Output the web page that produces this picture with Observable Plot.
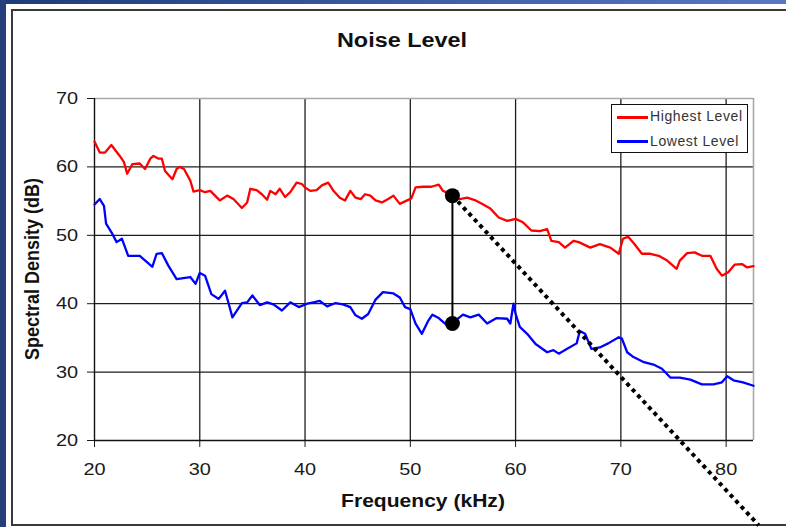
<!DOCTYPE html>
<html>
<head>
<meta charset="utf-8">
<script src="https://cdn.jsdelivr.net/npm/d3@7"></script>
<script src="https://cdn.jsdelivr.net/npm/@observablehq/plot@0.6"></script>
<style>
  html, body { margin: 0; padding: 0; background: #ffffff; }
  body { width: 786px; height: 527px; overflow: hidden; position: relative; font-family: "Liberation Sans", Arial, sans-serif; }
  .abs { position: absolute; white-space: nowrap; }
  #topband { left: 0; top: 0; width: 786px; height: 4px; background: linear-gradient(to right, #1f3b78, #3d5aa3 50%, #5a78c2); }
  #leftband { left: 0; top: 0; width: 6px; height: 527px; background: #243f7a; }
  #panel { left: 11px; top: 9px; width: 800px; height: 517px; border: 2px solid #3a3a3a; box-sizing: border-box; background: #fff; }
  #chart { left: 0; top: 0; }
  #title { left: 402px; top: 29px; font-size: 20px; font-weight: bold; color: #111; transform: translateX(-50%) scaleX(1.17); line-height: normal; }
  #xlabel { left: 423px; top: 491px; font-size: 18px; font-weight: bold; color: #111; transform: translateX(-50%) scaleX(1.17); line-height: normal; }
  #ylabel { left: 33px; top: 269px; font-size: 18px; font-weight: bold; color: #111; transform: translate(-50%, -50%) rotate(-90deg) scaleY(1.17); line-height: normal; }
  #legend { left: 611px; top: 104px; width: 137px; height: 49px; border: 1.5px solid #111; box-sizing: border-box; background: #fff; }
  .lgline { position: absolute; left: 5px; width: 31px; height: 2.5px; }
  .lgtext { position: absolute; left: 38px; font-size: 14px; letter-spacing: 0.6px; color: #333; line-height: normal; }
</style>
</head>
<body>
<div id="topband" class="abs"></div>
<div id="leftband" class="abs"></div>
<div id="panel" class="abs"></div>
<div id="chart" class="abs"></div>
<div id="title" class="abs">Noise Level</div>
<div id="xlabel" class="abs">Frequency (kHz)</div>
<div id="ylabel" class="abs">Spectral Density (dB)</div>
<div id="legend" class="abs">
  <div class="lgline" style="top:11px;background:#ff0000"></div>
  <div class="lgtext" style="top:3px">Highest Level</div>
  <div class="lgline" style="top:35px;background:#0000ff"></div>
  <div class="lgtext" style="top:28px">Lowest Level</div>
</div>
<script>
// ---- data ----
const highFreq = [20.0,20.5,21.0,21.6,22.0,22.4,22.8,23.1,23.6,24.3,24.8,25.3,25.6,26.1,26.4,26.7,27.4,27.8,28.1,28.5,29.1,29.4,30.0,30.5,31.0,31.9,32.6,33.2,34.0,34.5,34.8,35.4,35.9,36.4,36.7,37.2,37.6,38.1,38.6,39.2,39.7,40.0,40.5,41.1,41.6,42.2,42.7,43.3,43.8,44.3,44.8,45.3,45.7,46.2,46.7,47.3,47.9,48.4,49.0,49.7,50.1,50.5,51.2,52.0,52.7,53.1,54.0,54.7,55.4,56.2,56.8,57.6,58.4,59.2,60.0,60.7,61.5,62.3,63.0,63.4,64.1,64.7,65.5,66.0,67.1,68.0,69.0,69.8,70.2,70.7,71.3,72.0,72.8,73.6,74.4,75.3,75.6,76.3,77.0,77.7,78.5,79.1,79.6,80.2,80.8,81.5,82.0,82.6];
const highLevel = [63.7,62.1,62.1,63.2,62.4,61.6,60.7,59.0,60.4,60.5,59.7,61.2,61.6,61.2,61.2,59.4,58.2,59.7,60.0,59.7,58.0,56.4,56.6,56.3,56.5,55.1,55.8,55.3,54.0,54.8,56.8,56.6,56.0,55.2,56.5,56.0,56.8,55.6,56.3,57.7,57.5,57.0,56.5,56.6,57.3,57.7,56.5,55.5,55.1,56.5,55.5,55.3,56.0,55.8,55.1,54.8,55.3,55.8,54.6,55.1,55.4,57.0,57.1,57.1,57.4,56.5,55.8,55.3,55.5,55.1,54.6,53.9,52.6,52.1,52.4,51.9,50.7,50.6,50.9,49.2,49.0,48.2,49.2,49.0,48.2,48.7,48.2,47.3,49.5,49.8,48.7,47.3,47.3,47.0,46.3,45.1,46.3,47.4,47.5,47.0,47.0,45.1,44.1,44.6,45.7,45.8,45.3,45.5];
const lowFreq = [20.0,20.5,20.9,21.1,21.7,22.1,22.6,23.2,24.3,25.5,25.9,26.4,27.0,27.8,29.1,29.6,30.0,30.5,31.1,31.8,32.4,32.8,33.1,34.0,34.5,35.0,35.7,36.4,37.0,37.8,38.6,39.4,40.2,40.8,41.4,42.1,42.9,43.6,44.3,44.8,45.4,46.0,46.7,47.4,48.4,49.0,49.5,50.0,50.5,51.1,51.7,52.1,52.7,53.3,54.1,55.0,55.7,56.5,57.3,58.2,59.2,59.5,59.8,60.0,60.4,61.1,61.9,63.0,63.6,64.1,64.9,65.8,66.1,66.6,67.2,68.0,68.8,69.8,70.1,70.6,71.2,72.1,73.1,73.9,74.7,75.6,76.6,77.7,78.8,79.6,80.1,80.7,81.6,82.6];
const lowLevel = [54.5,55.3,54.3,51.7,50.2,49.0,49.5,47.0,47.0,45.4,47.3,47.4,45.6,43.6,43.9,42.9,44.5,44.1,41.4,40.7,41.9,39.7,38.0,40.1,40.2,41.2,39.8,40.2,39.9,39.0,40.2,39.5,40.0,40.2,40.4,39.6,40.1,39.9,39.5,38.3,37.8,38.5,40.6,41.7,41.5,40.9,39.5,39.2,37.1,35.6,37.5,38.4,37.9,37.1,37.3,38.4,38.0,38.4,37.1,37.9,37.8,37.1,40.0,38.5,36.6,35.6,34.1,32.9,33.2,32.7,33.4,34.2,36.0,35.6,33.4,33.6,34.2,35.1,34.9,32.9,32.2,31.5,31.1,30.5,29.2,29.2,28.9,28.2,28.2,28.5,29.4,28.8,28.5,28.0];
// annotation: vertical gap marker at 54 kHz and dotted slope line
const markerFreq = [54, 54];
const markerLevel = [55.8, 37.1];
const slopeFreq = [54, 83.1];
const slopeLevel = [55.8, 7.6];
const xTicks = [20, 30, 40, 50, 60, 70, 80];
const yTicks = [20, 30, 40, 50, 60, 70];
const xDomain = [20, 82.6];
const yDomain = [20, 70];

const high = highFreq.map((f, i) => ({f, v: highLevel[i]}));
const low = lowFreq.map((f, i) => ({f, v: lowLevel[i]}));
const markers = markerFreq.map((f, i) => ({f, v: markerLevel[i]}));
const slope = slopeFreq.map((f, i) => ({f, v: slopeLevel[i]}));

const chart = Plot.plot({
  width: 786,
  height: 527,
  marginLeft: 94,
  marginRight: 33,
  marginTop: 98,
  marginBottom: 87,
  style: {background: "transparent", color: "#1a1a1a", fontSize: "17px", fontFamily: "'Liberation Sans', Arial, sans-serif", overflow: "visible"},
  x: {domain: xDomain, ticks: xTicks, tickSize: 7, tickPadding: 15, tickFormat: d => String(d), label: null},
  y: {domain: yDomain, ticks: yTicks, tickSize: 7, tickPadding: 11, tickFormat: d => String(d), label: null},
  marks: [
    Plot.ruleY(yTicks.filter(t => t > yDomain[0] && t < yDomain[1]), {stroke: "#1e1e1e", strokeWidth: 1.3}),
    Plot.ruleX(xTicks.filter(t => t > xDomain[0] && t < xDomain[1]), {stroke: "#1e1e1e", strokeWidth: 1.3}),
    Plot.ruleY([yDomain[1]], {stroke: "#a8a8a8", strokeWidth: 1.6}),
    Plot.ruleX([xDomain[1]], {stroke: "#a8a8a8", strokeWidth: 1.6}),
    Plot.ruleX([xDomain[0]], {stroke: "#111", strokeWidth: 1.4}),
    Plot.ruleY([yDomain[0]], {stroke: "#111", strokeWidth: 1.4}),
    Plot.line(high, {x: "f", y: "v", stroke: "#ff0000", strokeWidth: 2.3}),
    Plot.line(low, {x: "f", y: "v", stroke: "#0000ff", strokeWidth: 2.3}),
    Plot.line(slope, {x: "f", y: "v", stroke: "#000", strokeWidth: 4, strokeDasharray: "4,4", strokeLinecap: "butt"}),
    Plot.line(markers, {x: "f", y: "v", stroke: "#000", strokeWidth: 2}),
    Plot.dot(markers, {x: "f", y: "v", r: 7.5, fill: "#000", stroke: "none"})
  ]
});
document.getElementById("chart").append(chart);

// glyphs in the reference are slightly wider than the font: stretch tick labels horizontally
function stretch(el, k) {
  const b = el.getBBox();
  const cx = b.x + b.width / 2;
  const old = el.getAttribute("transform") || "";
  el.setAttribute("transform", `${old} translate(${cx},0) scale(${k},1) translate(${-cx},0)`);
}
chart.querySelectorAll('g[aria-label*="tick label"] text').forEach(t => stretch(t, 1.17));
</script>
</body>
</html>
